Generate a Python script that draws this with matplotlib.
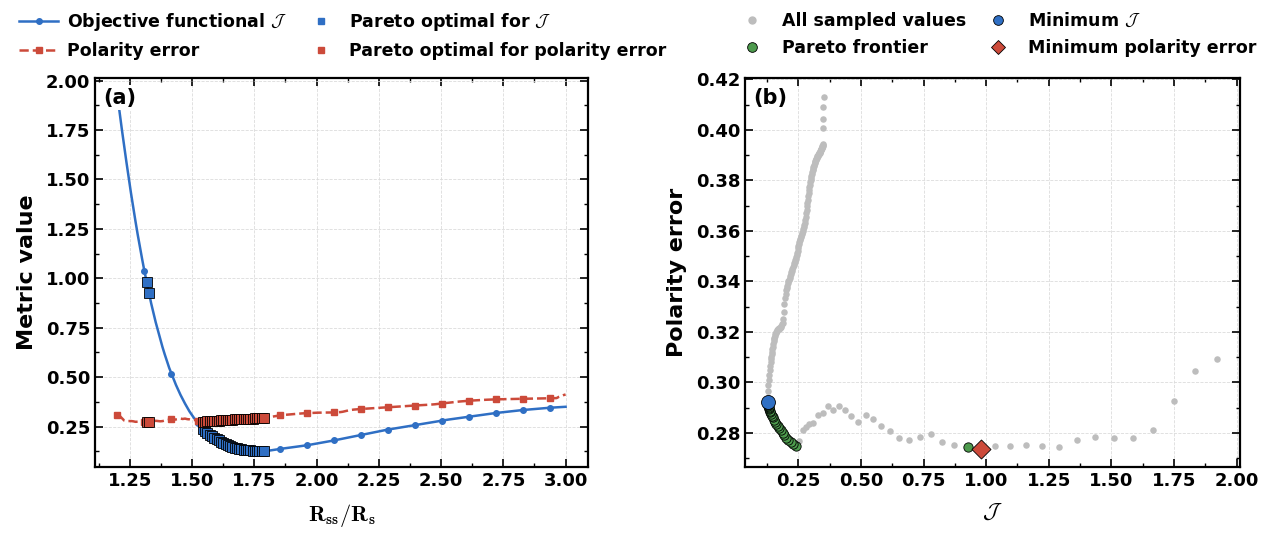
import matplotlib
matplotlib.use("Agg")
import matplotlib.pyplot as plt
import numpy as np
from matplotlib.lines import Line2D
from matplotlib.ticker import MultipleLocator

# ---------------- data ----------------
# sampling grid of R_ss/R_s (uniform, 200 samples)
R_START, R_END = 1.2, 3.0
MARK_EVERY = 12

# objective functional J for each sample
J_values = [
    1.924, 1.836, 1.751, 1.668, 1.588, 1.509, 1.433, 1.361, 1.290, 1.222,
    1.158, 1.096, 1.036, 0.981, 0.927, 0.873, 0.825, 0.778, 0.736, 0.693,
    0.653, 0.616, 0.581, 0.547, 0.518, 0.489, 0.461, 0.436, 0.411, 0.389,
    0.367, 0.347, 0.327, 0.310, 0.294, 0.281, 0.267, 0.254, 0.240, 0.229,
    0.219, 0.210, 0.202, 0.194, 0.187, 0.180, 0.174, 0.168, 0.162, 0.157,
    0.152, 0.148, 0.144, 0.141, 0.138, 0.136, 0.134, 0.1325, 0.131, 0.1298,
    0.1288, 0.128, 0.1274, 0.127, 0.1267, 0.1265, 0.1272, 0.1285, 0.1300, 0.1318,
    0.1335, 0.1352, 0.1370, 0.1386, 0.1402, 0.1418, 0.1433, 0.1448, 0.1463, 0.1478,
    0.1494, 0.1510, 0.1525, 0.1540, 0.1555, 0.1575, 0.1595, 0.1615, 0.1635, 0.1655,
    0.1675, 0.1695, 0.1715, 0.1737, 0.1758, 0.1779, 0.1800, 0.1823, 0.1846, 0.1869,
    0.1892, 0.1915, 0.1938, 0.1961, 0.1985, 0.2008, 0.2031, 0.2055, 0.2080, 0.2102,
    0.2125, 0.2147, 0.2170, 0.2192, 0.2215, 0.2237, 0.2260, 0.2282, 0.2305, 0.2327,
    0.2350, 0.2369, 0.2388, 0.2407, 0.2426, 0.2445, 0.2465, 0.2484, 0.2503, 0.2522,
    0.2541, 0.2560, 0.2580, 0.2599, 0.2618, 0.2637, 0.2656, 0.2675, 0.2694, 0.2713,
    0.2732, 0.2751, 0.2771, 0.2790, 0.2810, 0.2826, 0.2842, 0.2858, 0.2874, 0.2890,
    0.2905, 0.2921, 0.2937, 0.2953, 0.2969, 0.2985, 0.3000, 0.3016, 0.3032, 0.3048,
    0.3064, 0.3080, 0.3096, 0.3112, 0.3127, 0.3143, 0.3159, 0.3175, 0.3190, 0.3203,
    0.3215, 0.3228, 0.3240, 0.3253, 0.3265, 0.3278, 0.3290, 0.3303, 0.3315, 0.3328,
    0.3340, 0.3350, 0.3360, 0.3370, 0.3380, 0.3390, 0.3400, 0.3410, 0.3420, 0.3430,
    0.3440, 0.3448, 0.3456, 0.3463, 0.3470, 0.3477, 0.3484, 0.3491, 0.3498, 0.3505,
]

# polarity error for each sample
P_values = [
    0.3094, 0.3045, 0.2927, 0.2812, 0.2780, 0.2780, 0.2784, 0.2771, 0.2746, 0.2750,
    0.2754, 0.2750, 0.2750, 0.2735, 0.2744, 0.2752, 0.2765, 0.2797, 0.2784, 0.2771,
    0.2780, 0.2808, 0.2826, 0.2856, 0.2869, 0.2845, 0.2865, 0.2889, 0.2908, 0.2889,
    0.2908, 0.2880, 0.2869, 0.2839, 0.2836, 0.2824, 0.2810, 0.2769, 0.2748, 0.2755,
    0.2763, 0.2772, 0.2781, 0.2790, 0.2800, 0.2810, 0.2818, 0.2827, 0.2836, 0.2845,
    0.2853, 0.2861, 0.2868, 0.2875, 0.2882, 0.2888, 0.2894, 0.2899, 0.2903, 0.2907,
    0.2910, 0.2913, 0.2916, 0.2918, 0.2920, 0.2922, 0.2942, 0.2966, 0.2990, 0.3010,
    0.3030, 0.3050, 0.3065, 0.3080, 0.3093, 0.3102, 0.3112, 0.3122, 0.3132, 0.3142,
    0.3152, 0.3162, 0.3170, 0.3176, 0.3183, 0.3190, 0.3196, 0.3200, 0.3204, 0.3207,
    0.3210, 0.3212, 0.3213, 0.3214, 0.3215, 0.3216, 0.3218, 0.3224, 0.3230, 0.3236,
    0.3252, 0.3280, 0.3310, 0.3333, 0.3350, 0.3364, 0.3374, 0.3383, 0.3392, 0.3400,
    0.3407, 0.3414, 0.3421, 0.3428, 0.3435, 0.3442, 0.3449, 0.3456, 0.3463, 0.3471,
    0.3478, 0.3484, 0.3490, 0.3496, 0.3504, 0.3513, 0.3522, 0.3531, 0.3540, 0.3548,
    0.3555, 0.3562, 0.3568, 0.3574, 0.3580, 0.3586, 0.3592, 0.3598, 0.3606, 0.3614,
    0.3622, 0.3632, 0.3644, 0.3656, 0.3670, 0.3683, 0.3697, 0.3710, 0.3723, 0.3736,
    0.3748, 0.3760, 0.3772, 0.3782, 0.3792, 0.3801, 0.3810, 0.3818, 0.3825, 0.3832,
    0.3839, 0.3845, 0.3851, 0.3857, 0.3862, 0.3867, 0.3872, 0.3876, 0.3880, 0.3883,
    0.3886, 0.3889, 0.3892, 0.3895, 0.3897, 0.3899, 0.3901, 0.3903, 0.3905, 0.3907,
    0.3908, 0.3910, 0.3912, 0.3914, 0.3916, 0.3918, 0.3920, 0.3922, 0.3924, 0.3926,
    0.3928, 0.3931, 0.3934, 0.3937, 0.3940, 0.3945, 0.4006, 0.4043, 0.4091, 0.4128,
]

legend_a = ["Objective functional $\\mathcal{J}$", "Polarity error",
            "Pareto optimal for $\\mathcal{J}$", "Pareto optimal for polarity error"]
legend_b = ["All sampled values", "Pareto frontier",
            "Minimum $\\mathcal{J}$", "Minimum polarity error"]

J = np.array(J_values)
P = np.array(P_values)
R = np.linspace(R_START, R_END, len(J))

# Pareto set (minimise both J and P)
pareto = []
for i in range(len(J)):
    dominated = np.any((J <= J[i]) & (P <= P[i]) & ((J < J[i]) | (P < P[i])))
    if not dominated:
        pareto.append(i)
pareto = np.array(pareto)
i_minJ = int(np.argmin(J))
i_minP = int(np.argmin(P))

# ---------------- style ----------------
plt.rcParams.update({
    "font.family": ["DejaVu Sans"],
    "font.weight": "bold",
    "axes.labelweight": "bold",
    "mathtext.fontset": "cm",
    "axes.linewidth": 1.6,
})
BLUE = "#2f6fc4"
RED = "#cc4a3a"
GREEN = "#4d9a4d"
GRAY = "#bdbdbd"

W, H = 1269, 535
fig = plt.figure(figsize=(W / 100, H / 100), dpi=100)
ax1 = fig.add_axes([95 / W, 1 - 467 / H, 493 / W, 389 / H])
ax2 = fig.add_axes([745 / W, 1 - 467 / H, 495 / W, 389 / H])

# ---------------- panel (a) ----------------
ax1.plot(R, J, "-", color=BLUE, lw=1.8, marker="o", ms=4, markevery=MARK_EVERY, zorder=3)
ax1.plot(R, P, "--", color=RED, lw=1.8, marker="s", ms=4, markevery=MARK_EVERY, zorder=3)
ax1.plot(R[pareto], J[pareto], "s", color=BLUE, ms=7, mec="black", mew=0.6, ls="none", zorder=4)
ax1.plot(R[pareto], P[pareto], "s", color=RED, ms=7, mec="black", mew=0.6, ls="none", zorder=4)
ax1.set_ylim(0.046, 2.013)
ax1.xaxis.set_major_locator(MultipleLocator(0.25))
ax1.xaxis.set_minor_locator(MultipleLocator(0.125))
ax1.yaxis.set_major_locator(MultipleLocator(0.25))
ax1.yaxis.set_minor_locator(MultipleLocator(0.125))
ax1.set_xlabel(r"$\mathbf{R}_{\mathbf{ss}}/\mathbf{R}_{\mathbf{s}}$", fontsize=16, labelpad=9)
ax1.set_ylabel("Metric value", fontsize=16, labelpad=6)
ax1.text(0.016, 0.975, "(a)", transform=ax1.transAxes, fontsize=15,
         fontweight="bold", ha="left", va="top", zorder=6,
         bbox=dict(boxstyle="square,pad=0.12", fc="white", ec="none"))

# ---------------- panel (b) ----------------
ax2.scatter(J, P, s=22, color=GRAY, linewidths=0, zorder=2)
ax2.scatter(J[pareto], P[pareto], s=45, color=GREEN, edgecolor="black", linewidths=0.6, zorder=3)
ax2.scatter(J[i_minJ], P[i_minJ], s=100, color=BLUE, edgecolor="black", linewidths=0.6, zorder=5)
ax2.scatter(J[i_minP], P[i_minP], s=94, marker="D", color=RED, edgecolor="black", linewidths=0.6, zorder=5)
ax2.set_ylim(0.2665, 0.4205)
ax2.xaxis.set_major_locator(MultipleLocator(0.25))
ax2.xaxis.set_minor_locator(MultipleLocator(0.125))
ax2.yaxis.set_major_locator(MultipleLocator(0.02))
ax2.yaxis.set_minor_locator(MultipleLocator(0.01))
ax2.set_xlabel(r"$\mathcal{J}$", fontsize=16, labelpad=9)
ax2.set_ylabel("Polarity error", fontsize=16, labelpad=6)
ax2.text(0.016, 0.975, "(b)", transform=ax2.transAxes, fontsize=15,
         fontweight="bold", ha="left", va="top", zorder=6,
         bbox=dict(boxstyle="square,pad=0.12", fc="white", ec="none"))

for ax in (ax1, ax2):
    ax.set_axisbelow(True)
    ax.grid(True, which="major", ls="--", lw=0.6, color="#dcdcdc")
    ax.tick_params(which="both", direction="in", top=True, right=True, labelsize=13)
    ax.tick_params(which="major", length=6, width=1.2)
    ax.tick_params(which="minor", length=3, width=1.0)
    for lab in ax.get_xticklabels() + ax.get_yticklabels():
        lab.set_fontweight("bold")

# ---------------- legends ----------------
handles_a = [
    Line2D([], [], color=BLUE, lw=1.8, marker="o", ms=4),
    Line2D([], [], color=RED, lw=1.8, ls="--", marker="s", ms=4),
    Line2D([], [], color=BLUE, marker="s", ms=5, ls="none"),
    Line2D([], [], color=RED, marker="s", ms=5, ls="none"),
]
fig.legend(handles_a, legend_a, loc="upper left", bbox_to_anchor=(19 / W, 1 - 11 / H),
           ncol=2, frameon=False, fontsize=12.5, handlelength=2.25, handletextpad=0.5,
           columnspacing=0.85, borderpad=0, borderaxespad=0, labelspacing=0.5)

handles_b = [
    Line2D([], [], color=GRAY, marker="o", ms=5, ls="none"),
    Line2D([], [], color=GREEN, marker="o", ms=7, mec="black", mew=0.6, ls="none"),
    Line2D([], [], color=BLUE, marker="o", ms=7, mec="black", mew=0.6, ls="none"),
    Line2D([], [], color=RED, marker="D", ms=7, mec="black", mew=0.6, ls="none"),
]
fig.legend(handles_b, legend_b, loc="upper left", bbox_to_anchor=(735 / W, 1 - 12 / H),
           ncol=2, frameon=False, fontsize=12.5, handlelength=2.0, handletextpad=0.72,
           columnspacing=0.8, borderpad=0, borderaxespad=0, labelspacing=0.5)

fig.savefig("out.png", dpi=100)
